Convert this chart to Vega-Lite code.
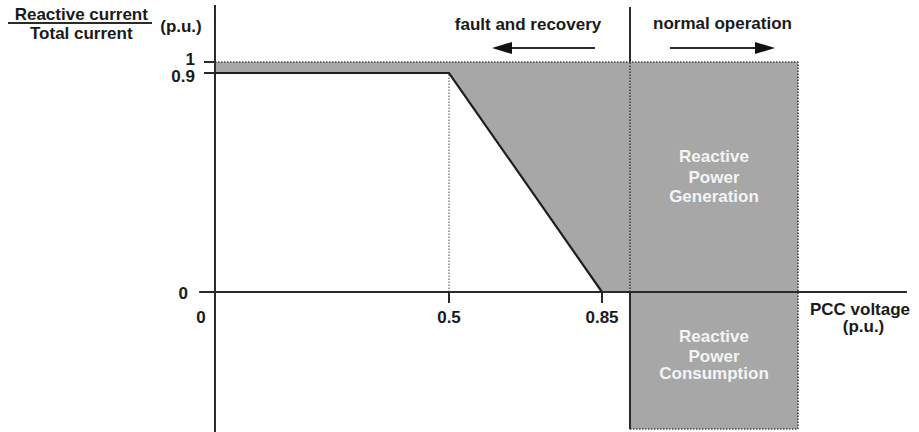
{
  "$schema": "https://vega.github.io/schema/vega-lite/v6.json",
  "width": 919,
  "height": 432,
  "autosize": {"type": "fit", "contains": "padding"},
  "padding": 0,
  "background": "white",
  "config": {"view": {"stroke": null}},
  "encoding": {
    "x": {"field": "x", "type": "quantitative", "axis": null,
      "scale": {"type": "linear", "zero": false, "nice": false,
        "domain": [-0.5, 0, 0.5, 0.85, 0.9, 1.1, 1.4],
        "range": [0, 215, 449, 602, 630, 798, 919]}},
    "y": {"field": "y", "type": "quantitative", "axis": null,
      "scale": {"type": "linear", "zero": false, "nice": false,
        "domain": [-0.65, -0.6, 0, 0.9, 1, 1.3],
        "range": [432, 429, 292, 73, 62, 0]}}
  },
  "layer": [
    {
      "data": {"values": [
        {"x": 0, "y": 0.9},
        {"x": 0.5, "y": 0.9},
        {"x": 0.85, "y": 0},
        {"x": 1.1, "y": 0}
      ]},
      "mark": {"type": "area", "color": "#a7a7a7", "opacity": 1},
      "encoding": {"y2": {"datum": 1}}
    },
    {
      "data": {"values": [{"x": 0.9, "x2": 1.1, "y": -0.6, "y2": 0}]},
      "mark": {"type": "rect", "color": "#a7a7a7", "opacity": 1},
      "encoding": {"x2": {"field": "x2"}, "y2": {"field": "y2"}}
    },
    {
      "data": {"values": [
        {"x": 0, "x2": 1.1, "y": 1, "y2": 1},
        {"x": 1.1, "x2": 1.1, "y": -0.6, "y2": 1},
        {"x": 0.9, "x2": 1.1, "y": -0.6, "y2": -0.6},
        {"x": 0.9, "x2": 0.9, "y": 0, "y2": 1}
      ]},
      "mark": {"type": "rule", "color": "#444444", "strokeWidth": 1.6, "strokeDash": [1.5, 1.5]},
      "encoding": {"x2": {"field": "x2"}, "y2": {"field": "y2"}}
    },
    {
      "data": {"values": [{"x": 0.5, "x2": 0.5, "y": 0, "y2": 0.9}]},
      "mark": {"type": "rule", "color": "#666666", "strokeWidth": 1.2, "strokeDash": [1.5, 1.5]},
      "encoding": {"x2": {"field": "x2"}, "y2": {"field": "y2"}}
    },
    {
      "data": {"values": [
        {"x": 0, "x2": 0, "y": -0.65, "y2": 1.276},
        {"x": -0.037, "x2": 1.37, "y": 0, "y2": 0},
        {"x": 0.9, "x2": 0.9, "y": 1, "y2": 1.266},
        {"x": 0.9, "x2": 0.9, "y": -0.605, "y2": 0},
        {"x": -0.0256, "x2": 0, "y": 1, "y2": 1},
        {"x": -0.0256, "x2": 0, "y": 0.9, "y2": 0.9},
        {"x": 0.5, "x2": 0.5, "y": -0.048, "y2": 0},
        {"x": 0.85, "x2": 0.85, "y": -0.048, "y2": 0},
        {"x": -0.4814, "x2": -0.1465, "y": 1.1887, "y2": 1.1887},
        {"x": 0.6212, "x2": 0.834, "y": 1.0677, "y2": 1.0677},
        {"x": 0.9476, "x2": 1.0607, "y": 1.0677, "y2": 1.0677}
      ]},
      "mark": {"type": "rule", "color": "#2a2a2a", "strokeWidth": 2},
      "encoding": {"x2": {"field": "x2"}, "y2": {"field": "y2"}}
    },
    {
      "data": {"values": [
        {"x": 0, "y": 0.9},
        {"x": 0.5, "y": 0.9},
        {"x": 0.85, "y": 0}
      ]},
      "mark": {"type": "line", "color": "#1e1e1e", "strokeWidth": 2.2, "strokeJoin": "miter"},
      "encoding": {}
    },
    {
      "data": {"values": [{"x": 1.0607, "y": 1.0677}]},
      "mark": {"type": "point", "shape": "M1,0L-1,-0.6L-1,0.6Z", "size": 400, "filled": true, "color": "#111111", "opacity": 1, "strokeWidth": 0},
      "encoding": {}
    },
    {
      "data": {"values": [{"x": 0.6212, "y": 1.0677}]},
      "mark": {"type": "point", "shape": "M-1,0L1,-0.6L1,0.6Z", "size": 400, "filled": true, "color": "#111111", "opacity": 1, "strokeWidth": 0},
      "encoding": {}
    },
    {
      "data": {"values": [
        {"x": -0.311, "y": 1.2032, "t": "Reactive current"},
        {"x": -0.311, "y": 1.1113, "t": "Total current"},
        {"x": -0.0791, "y": 1.1451, "t": "(p.u.)"},
        {"x": -0.0326, "y": -0.1358, "t": "0"},
        {"x": 0.5, "y": -0.1358, "t": "0.5"},
        {"x": 0.85, "y": -0.1358, "t": "0.85"},
        {"x": 0.6807, "y": 1.1548, "t": "fault and recovery"},
        {"x": 1.0101, "y": 1.1597, "t": "normal operation"},
        {"x": 1.2537, "y": -0.1007, "t": "PCC voltage"},
        {"x": 1.2624, "y": -0.1752, "t": "(p.u.)"}
      ]},
      "mark": {"type": "text", "font": "Liberation Sans", "fontWeight": "bold", "fontSize": 17, "color": "#1a1a1a", "align": "center", "baseline": "alphabetic"},
      "encoding": {"text": {"field": "t"}}
    },
    {
      "data": {"values": [
        {"x": -0.0465, "y": 0.9727, "t": "1"},
        {"x": -0.0465, "y": 0.863, "t": "0.9"},
        {"x": -0.0628, "y": -0.0307, "t": "0"}
      ]},
      "mark": {"type": "text", "font": "Liberation Sans", "fontWeight": "bold", "fontSize": 17, "color": "#1a1a1a", "align": "right", "baseline": "alphabetic"},
      "encoding": {"text": {"field": "t"}}
    },
    {
      "data": {"values": [
        {"x": 1.0, "y": 0.5343, "t": "Reactive"},
        {"x": 1.0, "y": 0.448, "t": "Power"},
        {"x": 1.0, "y": 0.3699, "t": "Generation"},
        {"x": 1.0, "y": -0.219, "t": "Reactive"},
        {"x": 1.0, "y": -0.3066, "t": "Power"},
        {"x": 1.0, "y": -0.381, "t": "Consumption"}
      ]},
      "mark": {"type": "text", "font": "Liberation Sans", "fontWeight": "bold", "fontSize": 17, "color": "#f4f4f4", "align": "center", "baseline": "alphabetic"},
      "encoding": {"text": {"field": "t"}}
    }
  ]
}
